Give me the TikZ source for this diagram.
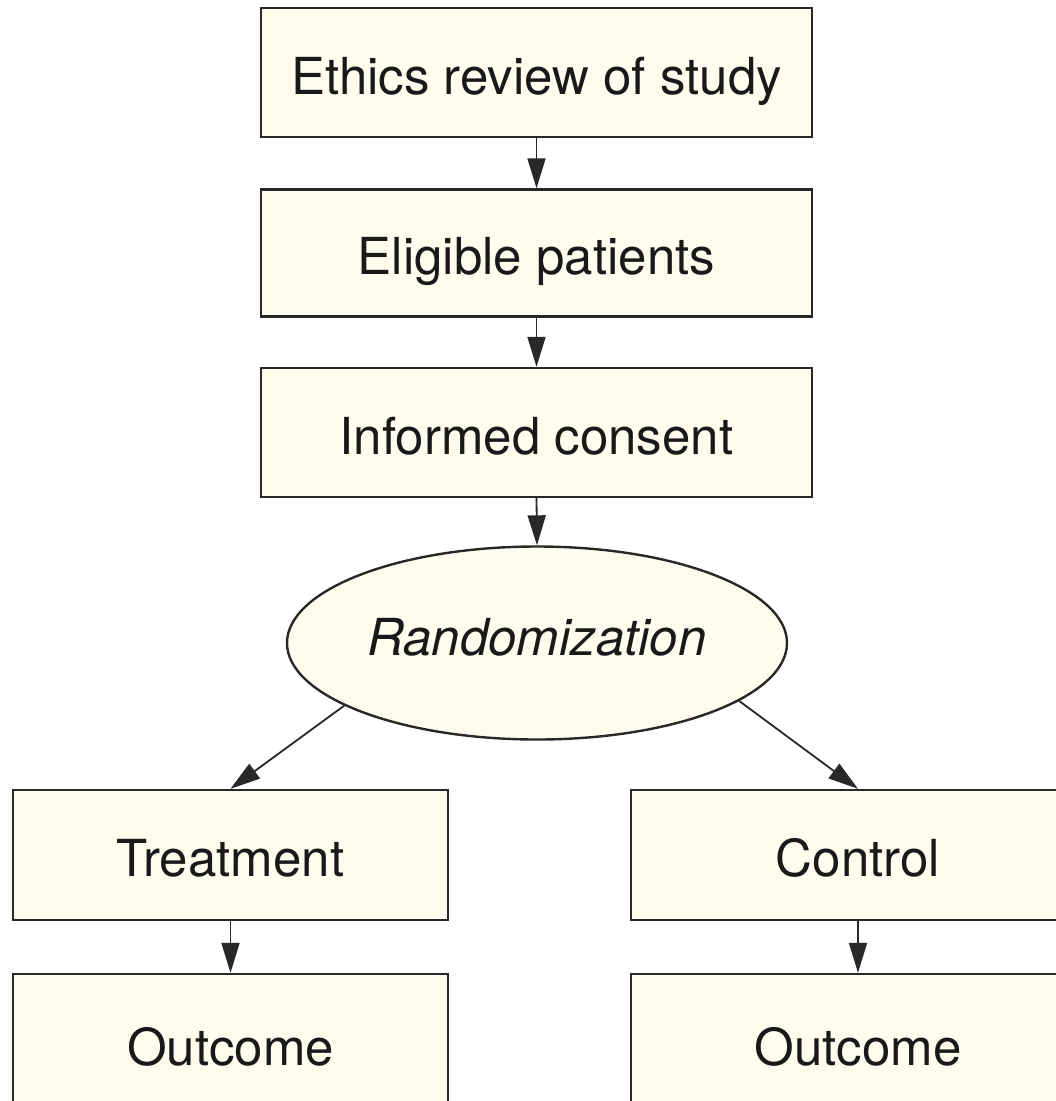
\documentclass[tikz,border=0pt]{standalone}
\usepackage{fontspec}
\setmainfont{TeX Gyre Heros}
\usetikzlibrary{shapes.geometric,arrows.meta}
\definecolor{boxfill}{RGB}{253,252,237}
\definecolor{edge}{RGB}{40,40,40}
\begin{document}
\begin{tikzpicture}[x=1pt,y=1pt,
  flowbox/.style={draw=edge,line width=2.4pt,fill=boxfill,inner sep=0pt,
    text height=43pt,text depth=0pt,
    font=\fontsize{51}{60}\selectfont,text=black!90},
  randnode/.style={ellipse,draw=edge,line width=2.4pt,fill=boxfill,inner sep=0pt,
    text height=24pt,text depth=0pt,
    minimum width=500pt,minimum height=193pt,font=\fontsize{51}{60}\selectfont\itshape,text=black!90},
  flowarrow/.style={draw=edge,line width=1.8pt,-{Triangle[length=30pt,width=18pt]}}]
\useasboundingbox[fill=white] (0,0) rectangle (1056,-1101);
\node[flowbox,minimum width=551pt,minimum height=129pt] (E) at (536.5,-72.5) {Ethics review of study};
\node[flowbox,minimum width=551pt,minimum height=127pt] (P) at (536.5,-253) {Eligible patients};
\node[flowbox,minimum width=551pt,minimum height=129pt] (C) at (536.5,-432.5) {Informed consent};
\node[randnode] (R) at (537,-643) {Randomization};
\node[flowbox,minimum width=435pt,minimum height=130pt] (T) at (230.5,-855) {Treatment};
\node[flowbox,minimum width=454pt,minimum height=130pt] (K) at (858,-855) {Control};
\node[flowbox,minimum width=435pt,minimum height=140pt] (O1) at (230.5,-1044) {Outcome};
\node[flowbox,minimum width=454pt,minimum height=140pt] (O2) at (858,-1044) {Outcome};
\draw[flowarrow] (E.south) -- (P.north);
\draw[flowarrow] (P.south) -- (C.north);
\draw[flowarrow] (C.south) -- (R.north);
\draw[flowarrow] (R.198) -- (T.north);
\draw[flowarrow] (R.344) -- (K.north);
\draw[flowarrow] (T.south) -- (O1.north);
\draw[flowarrow] (K.south) -- (O2.north);
\end{tikzpicture}
\end{document}
